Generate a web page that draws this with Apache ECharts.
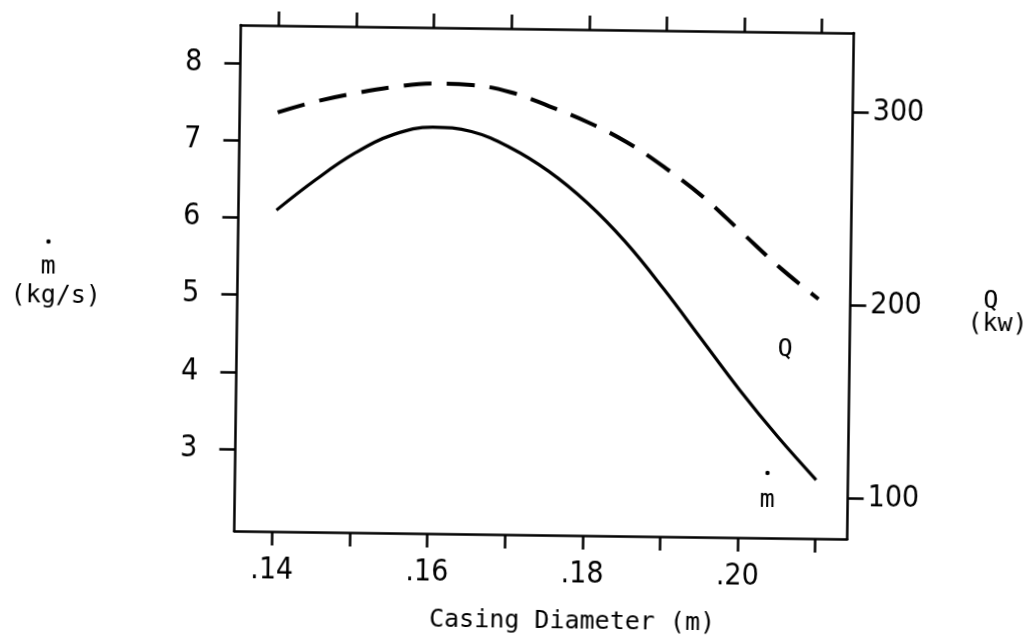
<!DOCTYPE html>
<html>
<head>
<meta charset="utf-8">
<script src="https://cdn.jsdelivr.net/npm/echarts@6/dist/echarts.min.js"></script>
<style>
html,body{margin:0;padding:0;background:#fff;}
#chart{width:1033px;height:642px;transform:rotate(0.75deg);transform-origin:544px 282px;}
</style>
</head>
<body>
<div id="chart"></div>
<script>
// Data
var diameter = [0.14, 0.145, 0.15, 0.155, 0.16, 0.165, 0.17, 0.175, 0.18, 0.185, 0.19, 0.195, 0.20, 0.205, 0.21];
var massFlow = [6.1, 6.5, 6.85, 7.1, 7.2, 7.15, 6.95, 6.65, 6.25, 5.75, 5.15, 4.5, 3.85, 3.25, 2.7];
var heatQ    = [296, 302, 306.5, 310, 312, 311.5, 308, 301, 293, 283, 270, 255, 237, 219, 203];
var xTicks = [0.14, 0.15, 0.16, 0.17, 0.18, 0.19, 0.20, 0.21];
var xLabels = [0.14, 0.16, 0.18, 0.20];
var mTicks = [3, 4, 5, 6, 7, 8];
var qTicks = [100, 200, 300];

var tickFont = "'Liberation Sans Narrow','DejaVu Sans Condensed','Liberation Sans',sans-serif";
var monoFont = "'DejaVu Sans Mono',monospace";

var chart = echarts.init(document.getElementById('chart'), null, {renderer:'canvas'});
var axisLine = {show:true, lineStyle:{color:'#000', width:2.5}};
var option = {
  backgroundColor:'#fff',
  animation:false,
  grid:{left:237.5, right:182.5, top:29, bottom:107, containLabel:false},
  xAxis:[{
    type:'value', min:0.1351, max:0.2141, position:'bottom',
    axisLine:axisLine,
    axisTick:{show:true, inside:false, length:14, customValues:xTicks, lineStyle:{color:'#000', width:2.5}},
    axisLabel:{show:true, customValues:xLabels, margin:24, color:'#000', fontSize:30, fontFamily:tickFont,
      formatter:function(v){return '.' + Math.round(v*100);}},
    splitLine:{show:false}
  },{
    type:'value', min:0.1351, max:0.2141, position:'top',
    axisLine:axisLine,
    axisTick:{show:true, inside:false, length:14, customValues:xTicks, lineStyle:{color:'#000', width:2.5}},
    axisLabel:{show:false},
    splitLine:{show:false}
  }],
  yAxis:[{
    type:'value', min:1.94, max:8.49, position:'left',
    axisLine:axisLine,
    axisTick:{show:true, inside:false, length:16, customValues:mTicks, lineStyle:{color:'#000', width:2.5}},
    axisLabel:{show:true, customValues:mTicks, margin:38, color:'#000', fontSize:30, fontFamily:tickFont},
    splitLine:{show:false}
  },{
    type:'value', min:79, max:341, position:'right',
    axisLine:axisLine,
    axisTick:{show:true, inside:false, length:16, customValues:qTicks, lineStyle:{color:'#000', width:2.5}},
    axisLabel:{show:true, customValues:qTicks, margin:20, color:'#000', fontSize:30, fontFamily:tickFont},
    splitLine:{show:false}
  }],
  series:[{
    name:'m', type:'line', xAxisIndex:0, yAxisIndex:0,
    data: diameter.map(function(d,i){return [d, massFlow[i]];}),
    smooth:0.4, showSymbol:false,
    lineStyle:{color:'#000', width:3.2, type:'solid'}
  },{
    name:'Q', type:'line', xAxisIndex:0, yAxisIndex:1,
    data: diameter.map(function(d,i){return [d, heatQ[i]];}),
    smooth:0.4, showSymbol:false,
    lineStyle:{color:'#000', width:4, type:[28,15]}
  }],
  graphic:[
    {type:'text', x:576.5, y:621.6, style:{text:'Casing Diameter (m)', font:'25px '+monoFont, fill:'#000', align:'center', verticalAlign:'middle'}},
    {type:'circle', shape:{cx:48, cy:248, r:2.2}, style:{fill:'#000'}},
    {type:'text', x:48, y:273, style:{text:'m', font:'25px '+monoFont, fill:'#000', align:'center', verticalAlign:'middle'}},
    {type:'text', x:56, y:302, style:{text:'(kg/s)', font:'25px '+monoFont, fill:'#000', align:'center', verticalAlign:'middle'}},
    {type:'text', x:991, y:295, style:{text:'Q', font:'25px '+monoFont, fill:'#000', align:'center', verticalAlign:'middle'}},
    {type:'text', x:998, y:318, style:{text:'(kw)', font:'25px '+monoFont, fill:'#000', align:'center', verticalAlign:'middle'}},
    {type:'text', x:786, y:346, style:{text:'Q', font:'25px '+monoFont, fill:'#000', align:'center', verticalAlign:'middle'}},
    {type:'circle', shape:{cx:770, cy:470, r:2.2}, style:{fill:'#000'}},
    {type:'text', x:770, y:497, style:{text:'m', font:'25px '+monoFont, fill:'#000', align:'center', verticalAlign:'middle'}}
  ]
};
chart.setOption(option);
</script>
</body>
</html>
